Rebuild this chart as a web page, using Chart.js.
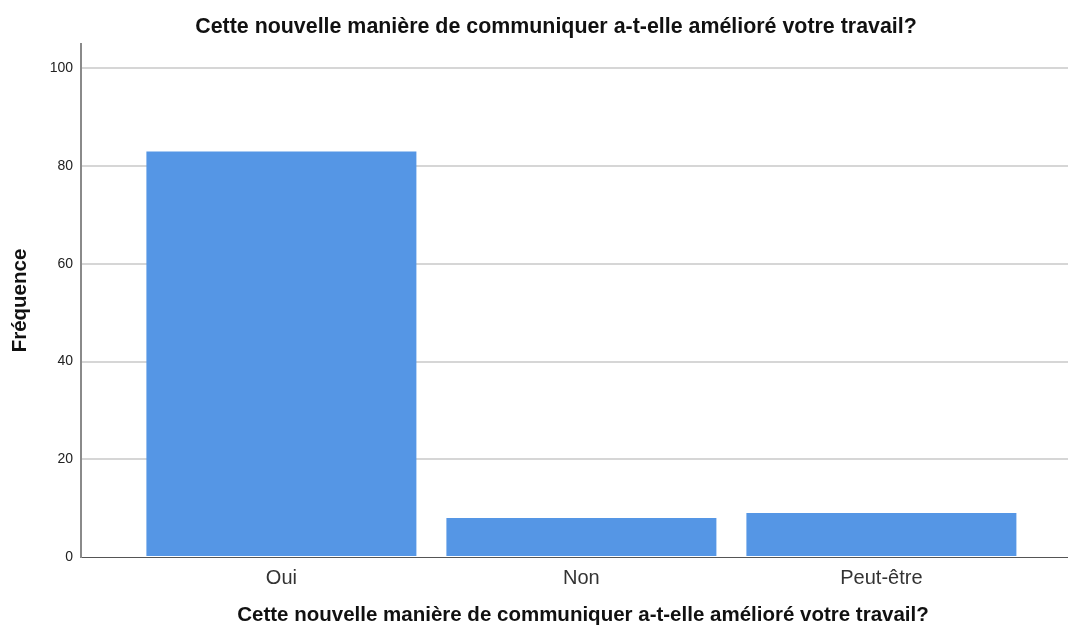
<!DOCTYPE html>
<html>
<head>
<meta charset="utf-8">
<script src="https://cdn.jsdelivr.net/npm/chart.js@4/dist/chart.umd.min.js"></script>
<style>
  html, body { margin: 0; padding: 0; background: #fff; }
  canvas { display: block; }
</style>
</head>
<body>
<canvas id="frequenceChart" width="1068" height="628"></canvas>
<script>
  // question, answers and counts
  const question = 'Cette nouvelle manière de communiquer a-t-elle amélioré votre travail?';
  const categories = ['Oui', 'Non', 'Peut-être'];
  const frequencies = [83, 8, 9];
  const yTickValues = [0, 20, 40, 60, 80, 100];

  const barColor = '#5596e5';
  const fontName = '"Liberation Sans", Arial, sans-serif';

  // heading on top and the x axis caption below, both off the plot centre
  const captionPlugin = {
    id: 'captions',
    afterDraw(chart) {
      const ctx = chart.ctx;
      ctx.save();
      ctx.fillStyle = '#111';
      ctx.textAlign = 'center';
      ctx.textBaseline = 'alphabetic';
      ctx.font = 'bold 21.4px ' + fontName;
      ctx.fillText(question, 556, 33);
      ctx.font = 'bold 20.5px ' + fontName;
      ctx.fillText(question, 583, 621);
      ctx.restore();
    }
  };

  let ctx = document.getElementById('frequenceChart').getContext('2d');
  let frequenceChart = new Chart(ctx, {
    type: 'bar',
    data: {
      datasets: [{
        data: frequencies.map((v, i) => ({ x: i, y: v })),
        backgroundColor: barColor,
        borderWidth: 0,
        barPercentage: 0.9,
        categoryPercentage: 1.0
      }]
    },
    options: {
      responsive: false,
      animation: false,
      layout: { padding: { top: 44, right: 0, bottom: 0, left: 0 } },
      plugins: {
        legend: { display: false },
        tooltip: { enabled: false }
      },
      scales: {
        x: {
          type: 'linear',
          offset: false,
          min: -0.668,
          max: 2.622,
          afterBuildTicks: (scale) => { scale.ticks = categories.map((c, i) => ({ value: i })); },
          afterFit: (scale) => { scale.height = 71; },
          grid: { display: false, drawTicks: false },
          border: { color: '#555', width: 1 },
          ticks: {
            autoSkip: false,
            maxRotation: 0,
            padding: 9,
            color: '#333',
            font: { family: fontName, size: 20 },
            callback: (value) => categories[value]
          }
        },
        y: {
          min: 0,
          max: 105,
          afterBuildTicks: (scale) => { scale.ticks = yTickValues.map(v => ({ value: v })); },
          afterFit: (scale) => { scale.width = 81; },
          grid: {
            drawTicks: false,
            lineWidth: 2,
            color: (c) => c.tick && c.tick.value === 0 ? 'rgba(0,0,0,0)' : '#d6d6d6'
          },
          border: { color: '#8a8a8a', width: 2 },
          ticks: {
            padding: 8,
            color: '#222',
            font: { family: fontName, size: 14 }
          },
          title: {
            display: true,
            text: 'Fréquence',
            color: '#111',
            font: { family: fontName, size: 20.5, weight: 'bold', lineHeight: 1 },
            padding: { top: 10, bottom: 0 }
          }
        }
      }
    },
    plugins: [captionPlugin]
  });
</script>
</body>
</html>
